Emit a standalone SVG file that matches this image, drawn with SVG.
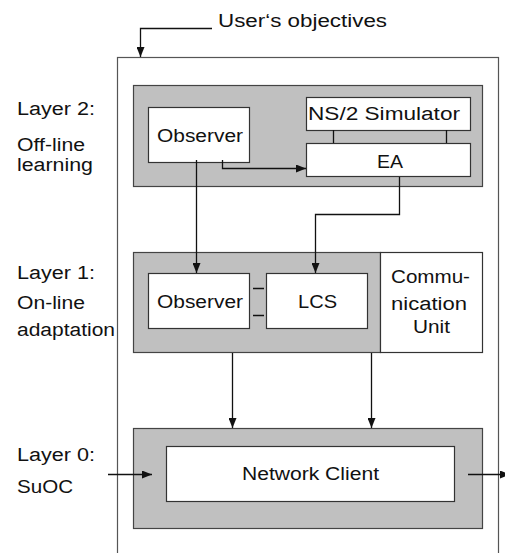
<svg xmlns="http://www.w3.org/2000/svg" width="505" height="553" viewBox="0 0 505 553">
<defs>
<marker id="ah" markerWidth="10" markerHeight="8" refX="10" refY="4" orient="auto" markerUnits="userSpaceOnUse">
<path d="M0,0 L10,4 L0,8 z" fill="#111"/>
</marker>
<style>
text{font-family:"Liberation Sans",Arial,sans-serif;font-size:18px;fill:#111}
.gray{fill:#c0c0c0;stroke:#444;stroke-width:1.2}
.box{fill:#fff;stroke:#333;stroke-width:1.2}
.outer{fill:#fff;stroke:#555;stroke-width:1.2}
.c{fill:none;stroke:#111;stroke-width:1.3}
.arr{marker-end:url(#ah)}
</style>
</defs>
<rect width="505" height="553" fill="#fff"/>
<g id="system"><rect class="outer" x="117.5" y="57.5" width="381" height="510"/></g>
<g id="user-objectives"><text x="218" y="27" textLength="169" lengthAdjust="spacingAndGlyphs">User‘s objectives</text></g>
<g id="labels">
<text x="17" y="115" textLength="78" lengthAdjust="spacingAndGlyphs">Layer 2:</text>
<text x="17" y="151" textLength="68" lengthAdjust="spacingAndGlyphs">Off-line</text>
<text x="17" y="171" textLength="76" lengthAdjust="spacingAndGlyphs">learning</text>
<text x="17" y="279" textLength="78" lengthAdjust="spacingAndGlyphs">Layer 1:</text>
<text x="17" y="309" textLength="68" lengthAdjust="spacingAndGlyphs">On-line</text>
<text x="17" y="336" textLength="98" lengthAdjust="spacingAndGlyphs">adaptation</text>
<text x="17" y="461" textLength="78" lengthAdjust="spacingAndGlyphs">Layer 0:</text>
<text x="17" y="493" textLength="56" lengthAdjust="spacingAndGlyphs">SuOC</text>
</g>
<g id="layer2"><rect class="gray" x="133.5" y="85.5" width="349" height="101"/></g>
<g id="observer2"><rect class="box" x="148.5" y="107.5" width="101" height="55"/><text x="157" y="142" textLength="86" lengthAdjust="spacingAndGlyphs">Observer</text></g>
<g id="ns2"><rect class="box" x="306.5" y="97.5" width="164" height="33"/><text x="308" y="120" textLength="152" lengthAdjust="spacingAndGlyphs">NS/2 Simulator</text></g>
<g id="ea"><rect class="box" x="306.5" y="143.5" width="164" height="33"/><text x="377" y="168" textLength="26" lengthAdjust="spacingAndGlyphs">EA</text></g>
<g id="layer1"><rect class="gray" x="133.5" y="252.5" width="247" height="100"/></g>
<g id="comm"><rect class="box" x="380.5" y="252.5" width="102" height="100"/>
<text x="391" y="283" textLength="79" lengthAdjust="spacingAndGlyphs">Commu-</text>
<text x="391" y="310" textLength="76" lengthAdjust="spacingAndGlyphs">nication</text>
<text x="413" y="333" textLength="37" lengthAdjust="spacingAndGlyphs">Unit</text></g>
<g id="observer1"><rect class="box" x="148.5" y="273.5" width="101" height="55"/><text x="157" y="308" textLength="86" lengthAdjust="spacingAndGlyphs">Observer</text></g>
<g id="lcs"><rect class="box" x="266.5" y="273.5" width="101" height="55"/><text x="298" y="308" textLength="39" lengthAdjust="spacingAndGlyphs">LCS</text></g>
<g id="layer0"><rect class="gray" x="133.5" y="428.5" width="349" height="100"/></g>
<g id="network-client"><rect class="box" x="166.5" y="446.5" width="288" height="55"/><text x="242" y="480" textLength="137" lengthAdjust="spacingAndGlyphs">Network Client</text></g>
<g id="connectors">
<path class="c arr" d="M212,28.5 H140.5 V57"/>
<path class="c" d="M333.5,130 V143 M446.5,130 V143"/>
<path class="c arr" d="M222.5,160 V168.5 H306"/>
<path class="c arr" d="M196.5,160 V273"/>
<path class="c arr" d="M399.5,177 V214.5 H315.5 V273"/>
<path class="c" d="M253,288.5 H264 M253,315.5 H264"/>
<path class="c arr" d="M232.5,353 V428"/>
<path class="c arr" d="M371.5,353 V428"/>
<path class="c arr" d="M108,474.5 H152"/>
<path class="c arr" d="M468,474.5 H510"/>
</g>
</svg>
